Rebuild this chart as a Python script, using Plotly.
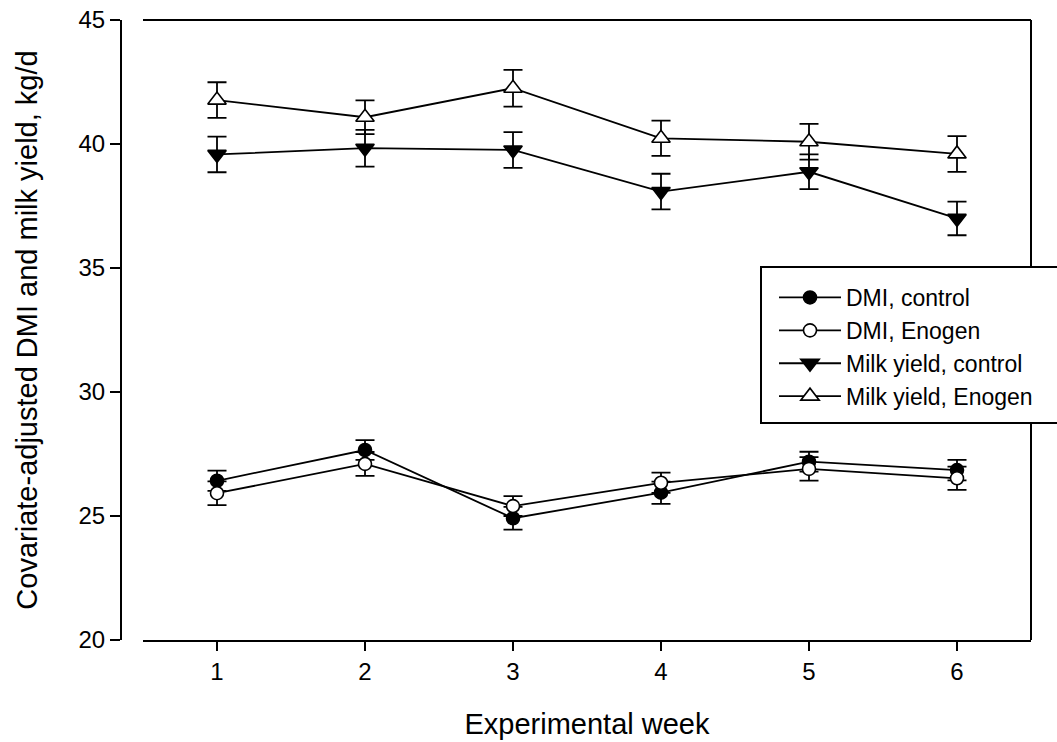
import plotly.graph_objects as go

weeks = [1, 2, 3, 4, 5, 6]
dmi_control = [26.42, 27.66, 24.91, 25.94, 27.19, 26.85]
dmi_control_se = [0.41, 0.40, 0.46, 0.45, 0.40, 0.41]
dmi_enogen = [25.92, 27.10, 25.40, 26.34, 26.90, 26.52]
dmi_enogen_se = [0.48, 0.48, 0.40, 0.41, 0.47, 0.47]
milk_control = [39.58, 39.83, 39.76, 38.08, 38.88, 37.00]
milk_control_se = [0.72, 0.74, 0.72, 0.72, 0.70, 0.68]
milk_enogen = [41.77, 41.08, 42.25, 40.23, 40.09, 39.60]
milk_enogen_se = [0.72, 0.68, 0.74, 0.71, 0.72, 0.72]

series = [
    ("DMI, control", dmi_control, dmi_control_se, "circle", "black", 13),
    ("DMI, Enogen", dmi_enogen, dmi_enogen_se, "circle", "white", 13),
    ("Milk yield, control", milk_control, milk_control_se, "triangle-down", "black", 16),
    ("Milk yield, Enogen", milk_enogen, milk_enogen_se, "triangle-up", "white", 16),
]

FONT = "Liberation Sans, Arial, sans-serif"

fig = go.Figure()
for i, (name, vals, se, sym, fill, sz) in enumerate(series):
    fig.add_trace(go.Scatter(
        x=weeks, y=vals, name=name, mode="lines+markers",
        legendgroup=f"g{i}",
        line=dict(color="black", width=1.8),
        marker=dict(symbol=sym, size=sz, color=fill, line=dict(color="black", width=1.6)),
        error_y=dict(type="data", array=se, visible=True, color="black", thickness=1.8, width=9.5),
    ))

# body margin is removed by the post script, so figure pixels = screen pixels
W, H = 1057, 742
ml, mt = 121, 20
mr = W - 1031
mb = H - 640
pw = W - ml - mr
ph = H - mt - mb

def px_x(p):
    return (p - ml) / pw

def px_y(p):
    return (H - mb - p) / ph

fig.update_layout(
    width=W, height=H,
    margin=dict(l=ml, r=mr, t=mt, b=mb, autoexpand=False),
    paper_bgcolor="white", plot_bgcolor="white",
    font=dict(family=FONT, color="black", size=24),
    showlegend=True,
    legend=dict(
        x=px_x(774), y=px_y(276), xanchor="left", yanchor="top",
        bgcolor="rgba(0,0,0,0)", borderwidth=0,
        font=dict(family=FONT, size=23, color="black"),
        traceorder="grouped", tracegroupgap=0, itemwidth=62,
    ),
    xaxis=dict(
        domain=[px_x(143), 1], range=[0.5, 6.5],
        tickmode="array", tickvals=weeks, ticktext=[str(w) for w in weeks],
        ticks="outside", ticklen=9, tickwidth=1.8, tickcolor="black",
        showline=True, linecolor="black", linewidth=2,
        showgrid=False, zeroline=False, ticklabeloverflow="allow",
        title=dict(text="Experimental week", font=dict(family=FONT, size=29), standoff=30),
        tickfont=dict(family=FONT, size=24),
    ),
    yaxis=dict(
        anchor="free", position=0, range=[20, 45],
        tickmode="linear", tick0=20, dtick=5,
        ticks="outside", ticklen=10, tickwidth=1.8, tickcolor="black",
        showline=True, linecolor="black", linewidth=2,
        showgrid=False, zeroline=False, ticklabeloverflow="allow",
        title=dict(text="Covariate-adjusted DMI and milk yield, kg/d", font=dict(family=FONT, size=29), standoff=31),
        tickfont=dict(family=FONT, size=24),
    ),
    shapes=[
        dict(type="line", xref="x domain", yref="paper", x0=0, x1=1, y0=1, y1=1,
             line=dict(color="black", width=2), layer="above"),
        dict(type="line", xref="x domain", yref="paper", x0=1, x1=1, y0=0, y1=1,
             line=dict(color="black", width=2), layer="above"),
        dict(type="rect", xref="paper", yref="paper",
             x0=px_x(761), x1=px_x(1075), y0=px_y(423), y1=px_y(267),
             fillcolor="white", line=dict(color="black", width=2), layer="above"),
    ],
)

fig.write_html(
    "out.html",
    config={"displayModeBar": False},
    post_script="document.body.style.margin='0';document.body.style.overflow='hidden';",
)
